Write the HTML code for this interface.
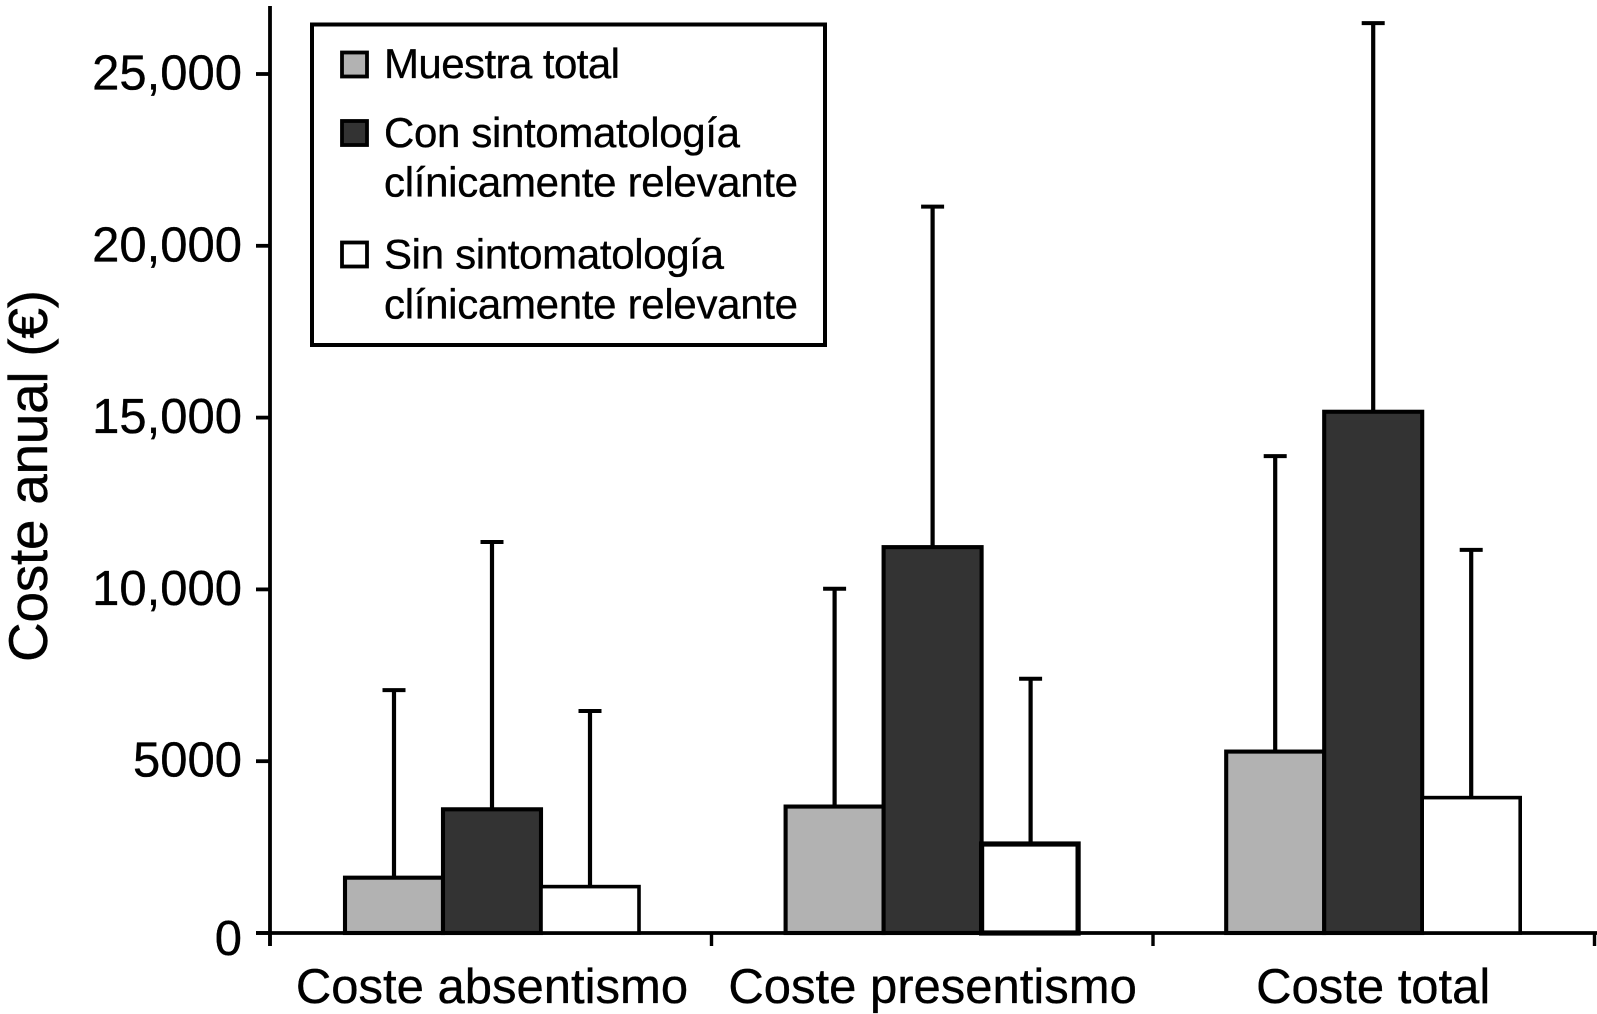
<!DOCTYPE html>
<html lang="es">
<head>
<meta charset="utf-8">
<title>Coste anual</title>
<style>
html,body{margin:0;padding:0;background:#fff;width:1597px;height:1014px;overflow:hidden}
svg{display:block}
text{font-family:"Liberation Sans",Arial,sans-serif;fill:#000;stroke:#000;stroke-width:0.35px}
</style>
</head>
<body>
<svg id="chart" xmlns="http://www.w3.org/2000/svg" width="1597" height="1014" viewBox="0 0 1597 1014">
  <rect x="0" y="0" width="1597" height="1014" fill="#fff"/>
  <g id="errors"></g>
  <g id="axes"></g>
  <g id="bars"></g>
  <text transform="translate(47,476) rotate(-90)" text-anchor="middle" font-size="55" textLength="372" lengthAdjust="spacing">Coste anual (€)</text>
  <g>
    <rect x="312" y="24.5" width="513" height="320.5" fill="#fff" stroke="#000" stroke-width="4"/>
    <rect x="342" y="52.5" width="25" height="24" fill="#b2b2b2" stroke="#000" stroke-width="3.8"/>
    <text x="384" y="78" font-size="42" textLength="236" lengthAdjust="spacing">Muestra total</text>
    <rect x="342" y="121" width="25" height="24" fill="#333" stroke="#000" stroke-width="3.8"/>
    <text font-size="42"><tspan x="384" y="147" textLength="356" lengthAdjust="spacing">Con sintomatología</tspan><tspan x="384" y="196.5" textLength="414" lengthAdjust="spacing">clínicamente relevante</tspan></text>
    <rect x="342" y="242.5" width="25" height="24" fill="#fff" stroke="#000" stroke-width="3.8"/>
    <text font-size="42"><tspan x="384" y="268.5" textLength="340" lengthAdjust="spacing">Sin sintomatología</tspan><tspan x="384" y="318.5" textLength="414" lengthAdjust="spacing">clínicamente relevante</tspan></text>
  </g>
</svg>
<script>
const categories = ["Coste absentismo", "Coste presentismo", "Coste total"];
const seriesNames = ["muestra-total", "con-sintomatologia", "sin-sintomatologia"];
const muestraTotal = [1610, 3680, 5280];
const conSintomatologia = [3600, 11230, 15170];
const sinSintomatologia = [1350, 2590, 3940];
const muestraTotalUpper = [7070, 10020, 13880];
const conSintomatologiaUpper = [11380, 21140, 26480];
const sinSintomatologiaUpper = [6460, 7400, 11150];
const yTickValues = [0, 5000, 10000, 15000, 20000, 25000];
const yTickLabels = ["0", "5000", "10,000", "15,000", "20,000", "25,000"];

const seriesValues = [muestraTotal, conSintomatologia, sinSintomatologia];
const seriesUppers = [muestraTotalUpper, conSintomatologiaUpper, sinSintomatologiaUpper];
const seriesFills = ["#b2b2b2", "#333333", "#ffffff"];

const NS = "http://www.w3.org/2000/svg";
const yScale = v => 933 - v * 0.03436;
const groupCenter = i => 492 + 440.6 * i;
const barCenter = (i, s) => groupCenter(i) + (s - 1) * 98;
const xTickPos = i => 270 + 441.5 * i;
const BAR_W = 98;

function make(tag, parent, attrs, text) {
  const el = document.createElementNS(NS, tag);
  for (const k in attrs) el.setAttribute(k, attrs[k]);
  if (text !== undefined) el.textContent = text;
  parent.appendChild(el);
  return el;
}

const axes = document.getElementById("axes");
const barsG = document.getElementById("bars");
const errorsG = document.getElementById("errors");
const BLACK = "#000";

const yAxisLine = make("line", axes, {x1: 270, x2: 270, y1: 6, y2: 946, stroke: BLACK, "stroke-width": 3.8});



const xAxisLine = make("line", axes, {x1: 256, x2: 1597, y1: yScale(0), y2: yScale(0), stroke: BLACK, "stroke-width": 3.8});



yTickValues.forEach((v, idx) => {
  const y = yScale(v);
  const tick = make("line", axes, {x1: 256, x2: 270, y1: y, y2: y, stroke: BLACK, "stroke-width": 3.8});
  
  
  const label = make("text", axes, {x: 242, y: y + (v === 0 ? 22 : 15.5), "text-anchor": "end", "font-size": 49}, yTickLabels[idx]);
  
  
});

for (let i = 0; i <= categories.length; i++) {
  const x = xTickPos(i);
  const tick = make("line", axes, {x1: x, x2: x, y1: yScale(0), y2: 946, stroke: BLACK, "stroke-width": 3.4});
  
  
}

categories.forEach((name, i) => {
  const label = make("text", axes, {x: groupCenter(i), y: 1003, "text-anchor": "middle", "font-size": 49}, name);
  
  
});

seriesValues.forEach((values, s) => {
  values.forEach((v, i) => {
    const cx = barCenter(i, s);
    const upper = seriesUppers[s][i];
    const stem = make("line", errorsG, {x1: cx, x2: cx, y1: yScale(v), y2: yScale(upper), stroke: BLACK, "stroke-width": 4.2});
    
    
    const cap = make("line", errorsG, {x1: cx - 11.5, x2: cx + 11.5, y1: yScale(upper), y2: yScale(upper), stroke: BLACK, "stroke-width": 4});
    
    
  });
});

seriesValues.forEach((values, s) => {
  values.forEach((v, i) => {
    const top = yScale(v);
    const thick = s === 2 && i === 1;
    const bar = make("rect", barsG, {
      x: barCenter(i, s) - BAR_W / 2,
      y: top,
      width: thick ? BAR_W - 1.5 : BAR_W,
      height: yScale(0) - top,
      fill: seriesFills[s],
      stroke: BLACK,
      "stroke-width": thick ? 5.2 : (s === 2 ? 3.6 : 4.1)
    });
    
    
  });
});
</script>
</body>
</html>
